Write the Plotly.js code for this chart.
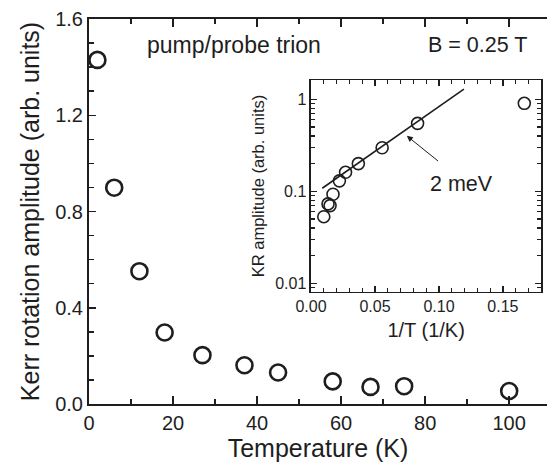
<!DOCTYPE html>
<html>
<head>
<meta charset="utf-8">
<script src="https://cdn.plot.ly/plotly-3.0.1.min.js"></script>
<style>html,body{margin:0;padding:0;background:#fff}#chart{width:547px;height:464px}</style>
</head>
<body>
<div id="chart"></div>
<script>
// Main panel: Kerr rotation amplitude vs temperature
const temperature = [2, 6, 12, 18, 27, 37, 45, 58, 67, 75, 100];
const kerrAmplitude = [1.43, 0.899, 0.552, 0.297, 0.203, 0.161, 0.131, 0.094, 0.071, 0.074, 0.054];

// Inset: KR amplitude vs 1/T (log scale)
const inverseT = [0.0100, 0.0133, 0.0149, 0.0172, 0.0222, 0.0270, 0.0370, 0.0556, 0.0833, 0.1667];
const insetAmplitude = [0.053, 0.073, 0.070, 0.093, 0.130, 0.161, 0.200, 0.298, 0.548, 0.905];

// Activation fit line (2 meV)
const fitX = [0.0088, 0.1195];
const fitY = [0.108, 1.29];

const ink = '#1e1e1e';
const font = 'Liberation Sans, Arial, sans-serif';

const minorLog = [];
for (let d = -3; d <= 0; d++) {
  for (let k = 2; k <= 9; k++) minorLog.push(k * Math.pow(10, d));
}

const traces = [
  {
    x: temperature, y: kerrAmplitude, type: 'scatter', mode: 'markers',
    marker: {symbol: 'circle-open', size: 16, color: ink, line: {width: 2.6, color: ink}},
    xaxis: 'x', yaxis: 'y', hoverinfo: 'skip'
  },
  {
    x: fitX, y: fitY, type: 'scatter', mode: 'lines',
    line: {color: ink, width: 1.6},
    xaxis: 'x2', yaxis: 'y2', hoverinfo: 'skip'
  },
  {
    x: inverseT, y: insetAmplitude, type: 'scatter', mode: 'markers',
    marker: {symbol: 'circle-open', size: 12, color: ink, line: {width: 1.6, color: ink}},
    xaxis: 'x2', yaxis: 'y2', hoverinfo: 'skip'
  }
];

const layout = {
  width: 547, height: 464,
  margin: {l: 89, r: 0, t: 19, b: 60},
  paper_bgcolor: '#fff', plot_bgcolor: '#fff',
  showlegend: false,
  font: {family: font, color: ink},
  xaxis: {
    range: [0, 109], domain: [0, 1],
    showgrid: false, zeroline: false,
    showline: true, linecolor: ink, linewidth: 2, mirror: 'ticks',
    ticks: 'inside', ticklen: 8, tickwidth: 1.5, tickcolor: ink,
    dtick: 20, tick0: 0,
    minor: {dtick: 10, ticks: 'inside', ticklen: 5, tickwidth: 1.5, tickcolor: ink},
    tickfont: {size: 20, family: font, color: ink},
    title: {text: 'Temperature (K)', font: {size: 25, family: font, color: ink}, standoff: 6}
  },
  yaxis: {
    range: [0, 1.6], domain: [0, 1],
    showgrid: false, zeroline: false,
    showline: true, linecolor: ink, linewidth: 2, mirror: false,
    ticks: 'inside', ticklen: 7, tickwidth: 1.5, tickcolor: ink,
    dtick: 0.4, tick0: 0, tickformat: '.1f',
    minor: {dtick: 0.1, ticks: 'inside', ticklen: 5, tickwidth: 1.5, tickcolor: ink},
    tickfont: {size: 20, family: font, color: ink},
    title: {text: 'Kerr rotation amplitude (arb. units)', font: {size: 25, family: font, color: ink}, standoff: 8}
  },
  xaxis2: {
    anchor: 'y2', domain: [0.4847, 0.9876], range: [0, 0.18],
    showgrid: false, zeroline: false,
    showline: true, linecolor: ink, linewidth: 1.5, mirror: 'ticks',
    ticks: 'inside', ticklen: 6, tickwidth: 1.2, tickcolor: ink,
    dtick: 0.05, tick0: 0, tickformat: '.2f',
    minor: {dtick: 0.01, ticks: 'inside', ticklen: 4, tickwidth: 1.2, tickcolor: ink},
    tickfont: {size: 16, family: font, color: ink},
    title: {text: '1/T (1/K)', font: {size: 20, family: font, color: ink}, standoff: 8}
  },
  yaxis2: {
    anchor: 'x2', domain: [0.2917, 0.8408], type: 'log', range: [-2.091, 0.207],
    showgrid: false, zeroline: false,
    showline: true, linecolor: ink, linewidth: 1.5, mirror: 'ticks',
    ticks: 'inside', ticklen: 6, tickwidth: 1.2, tickcolor: ink,
    tickmode: 'array', tickvals: [0.01, 0.1, 1], ticktext: ['0.01', '0.1', '1'],
    minor: {tickmode: 'array', tickvals: minorLog, ticks: 'inside', ticklen: 4, tickwidth: 1.2, tickcolor: ink},
    tickfont: {size: 16, family: font, color: ink},
    title: {text: 'KR amplitude (arb. units)', font: {size: 16.5, family: font, color: ink}, standoff: 6}
  },
  annotations: [
    {xref: 'paper', yref: 'paper', x: (234 - 89) / 458, y: (404 - 45) / 385, text: 'pump/probe trion',
     showarrow: false, xanchor: 'center', yanchor: 'middle', font: {size: 23, family: font, color: ink}},
    {xref: 'paper', yref: 'paper', x: (477 - 89) / 458, y: (404 - 45) / 385, text: 'B = 0.25 T',
     showarrow: false, xanchor: 'center', yanchor: 'middle', font: {size: 21.5, family: font, color: ink}},
    {xref: 'x2', yref: 'y2', x: 0.0749, y: -0.397, ax: 0.1005, ay: -0.684, axref: 'x2', ayref: 'y2',
     text: '', showarrow: true, arrowhead: 2, arrowsize: 1.2, arrowwidth: 1, arrowcolor: ink},
    {xref: 'paper', yref: 'paper', x: (461 - 89) / 458, y: (404 - 184) / 385, text: '2 meV',
     showarrow: false, xanchor: 'center', yanchor: 'middle', font: {size: 21.5, family: font, color: ink}}
  ]
};

Plotly.newPlot('chart', traces, layout, {displayModeBar: false, staticPlot: true});
</script>
</body>
</html>
